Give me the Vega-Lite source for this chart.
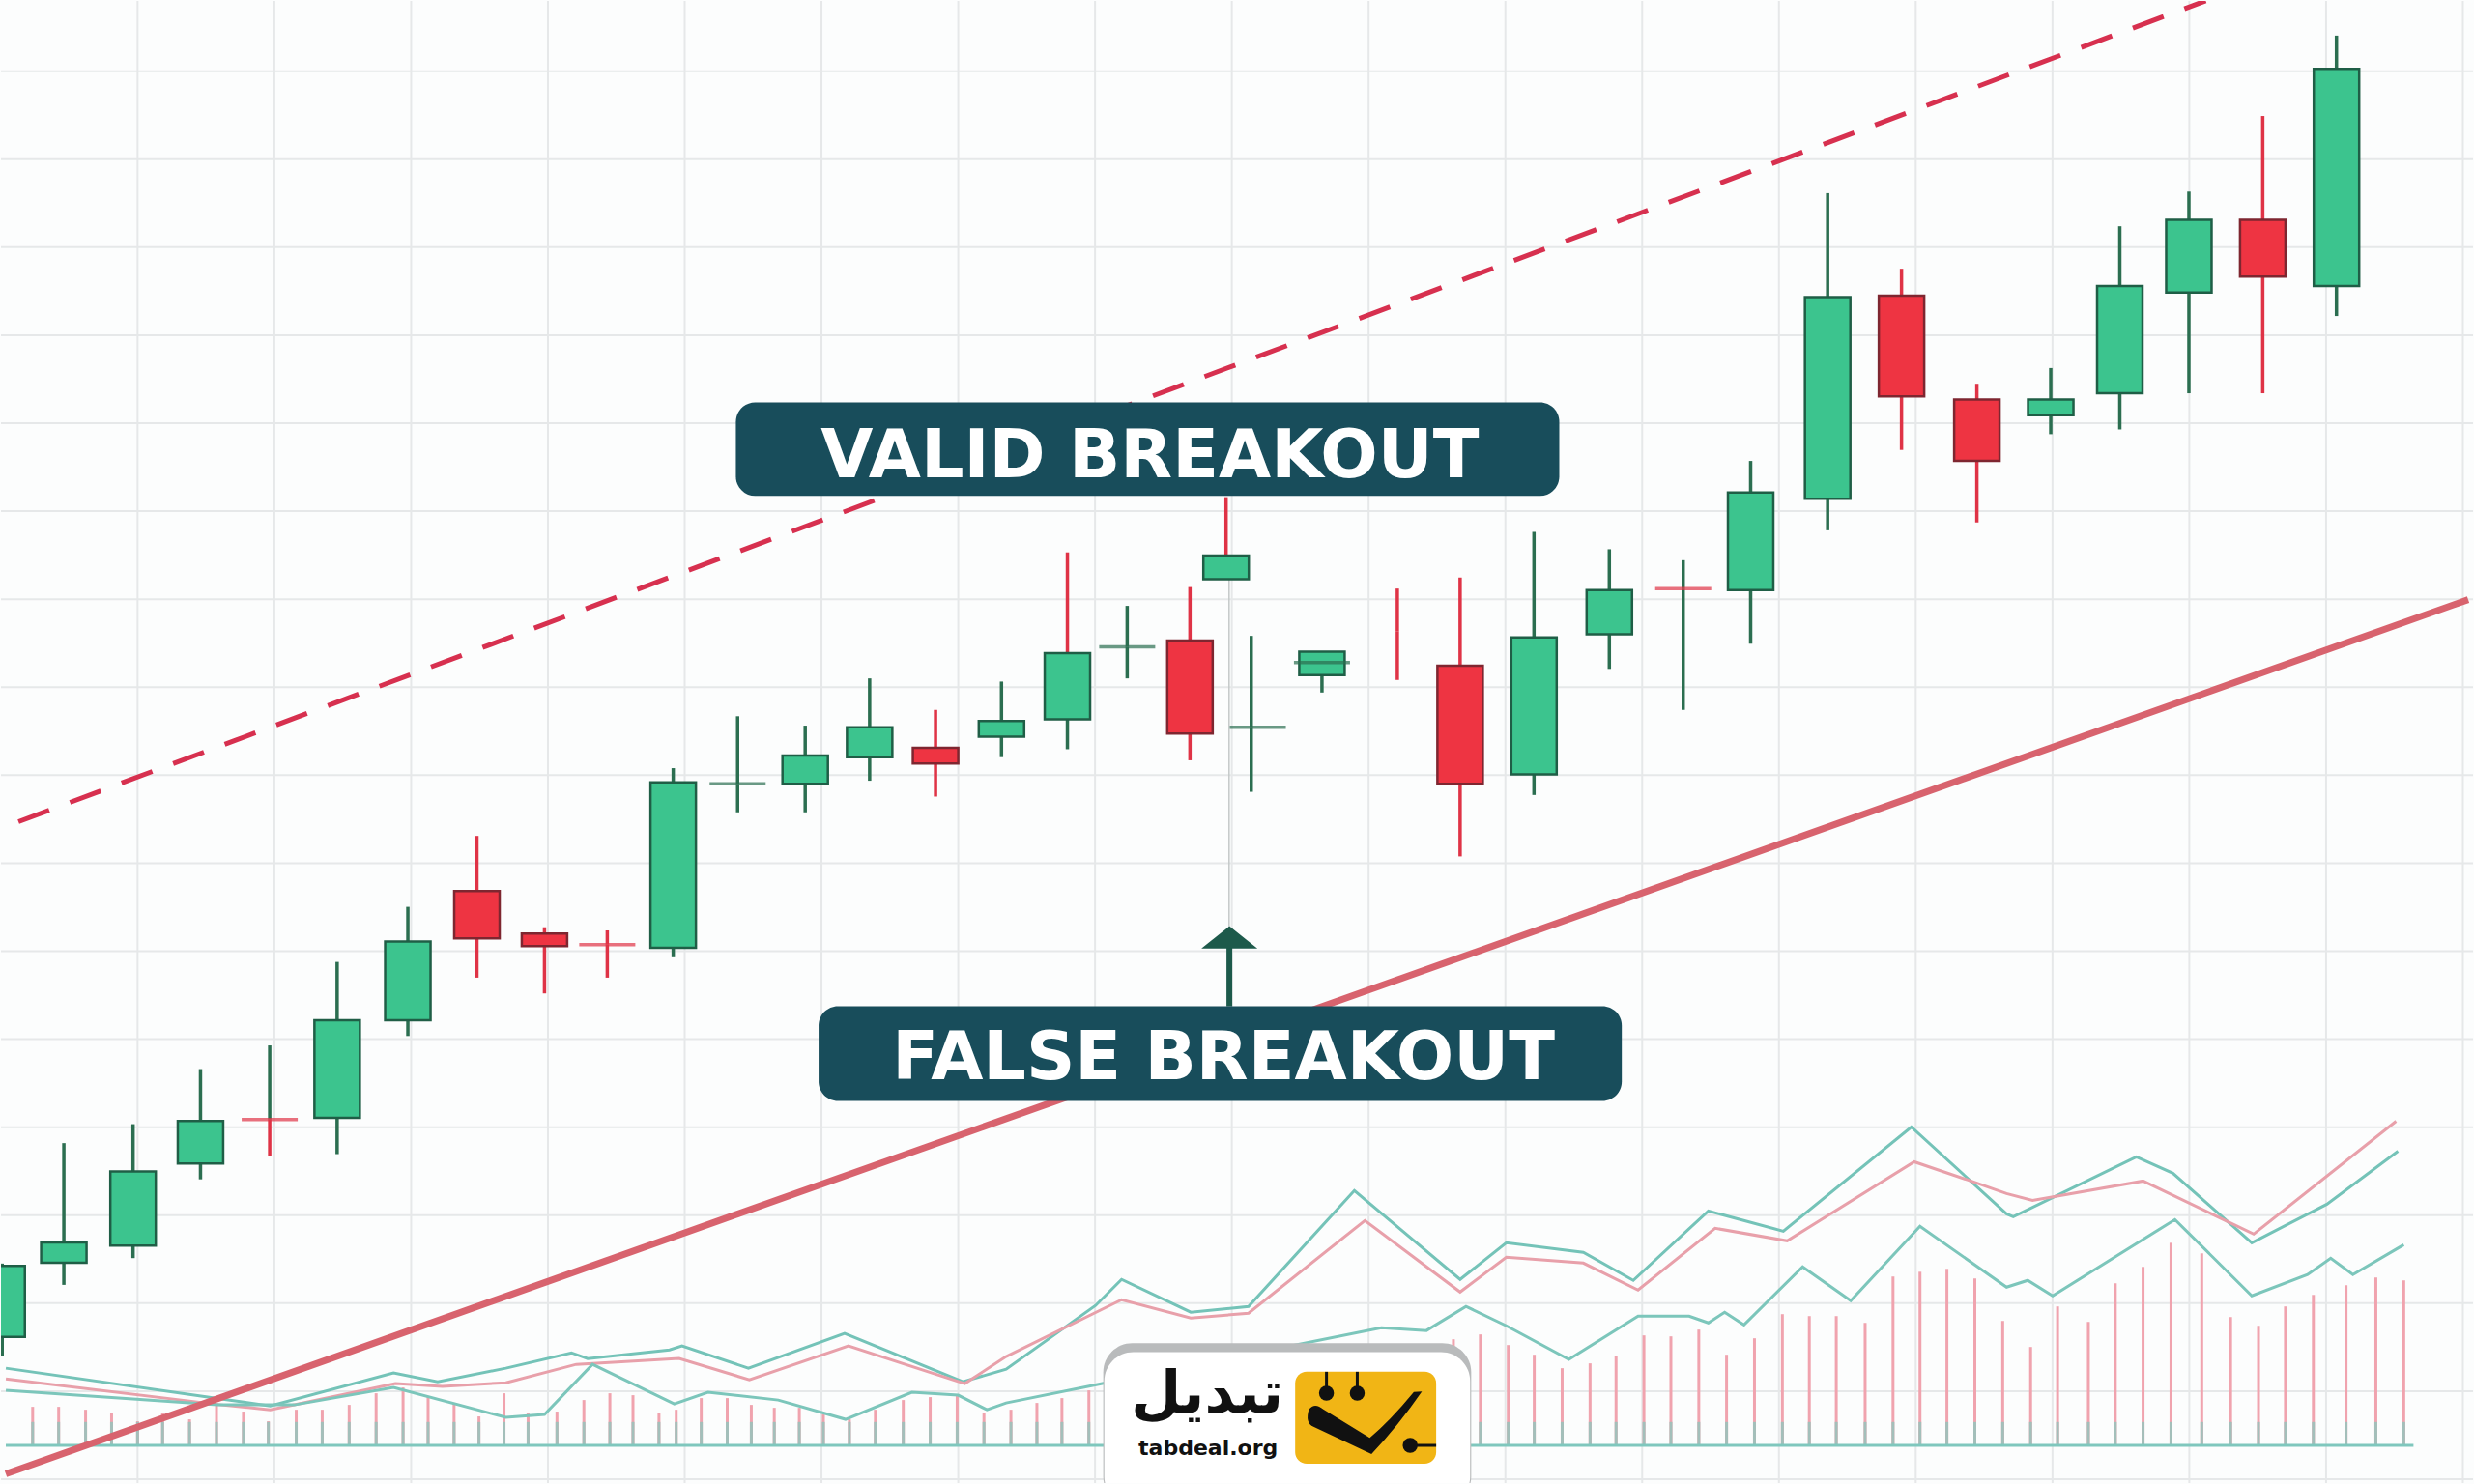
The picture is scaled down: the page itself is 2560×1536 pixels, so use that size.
{
  "$schema": "https://vega.github.io/schema/vega-lite/v6.json",
  "width": 2560,
  "height": 1536,
  "autosize": {"type": "fit", "contains": "padding"},
  "padding": 0,
  "background": "#fcfdfd",
  "config": {
    "view": {"stroke": null}
  },
  "datasets": {
    "gridx": [{"g": 0}, {"g": 10}, {"g": 20}, {"g": 30}, {"g": 40}, {"g": 50}, {"g": 60}, {"g": 70}, {"g": 80}, {"g": 90}, {"g": 100}, {"g": 110}, {"g": 120}, {"g": 130}, {"g": 140}, {"g": 150}, {"g": 160}, {"g": 170}],
    "gridy": [{"g": 0}, {"g": 10}, {"g": 20}, {"g": 30}, {"g": 40}, {"g": 50}, {"g": 60}, {"g": 70}, {"g": 80}, {"g": 90}, {"g": 100}, {"g": 110}, {"g": 120}, {"g": 130}, {"g": 140}, {"g": 150}, {"g": 160}],
    "candles": [
      {"t": -9.9, "hi": 24.5, "top": 24.23, "bot": 16.17, "lo": 14.02, "d": "up", "uw": "up", "lw": "up"},
      {"t": -5.39, "hi": 38.19, "top": 26.91, "bot": 24.58, "lo": 22.08, "d": "up", "uw": "up", "lw": "up"},
      {"t": -0.33, "hi": 40.34, "top": 34.97, "bot": 26.55, "lo": 25.12, "d": "up", "uw": "up", "lw": "up"},
      {"t": 4.6, "hi": 46.6, "top": 40.7, "bot": 35.86, "lo": 34.07, "d": "up", "uw": "up", "lw": "up"},
      {"t": 9.66, "hi": 49.29, "top": 40.88, "bot": 40.88, "lo": 36.76, "d": "down", "uw": "up", "lw": "down"},
      {"t": 14.59, "hi": 58.78, "top": 52.15, "bot": 41.05, "lo": 36.94, "d": "up", "uw": "up", "lw": "up"},
      {"t": 19.76, "hi": 65.04, "top": 61.11, "bot": 52.15, "lo": 50.36, "d": "up", "uw": "up", "lw": "up"},
      {"t": 24.81, "hi": 73.1, "top": 66.83, "bot": 61.46, "lo": 56.99, "d": "down", "uw": "down", "lw": "down"},
      {"t": 29.75, "hi": 62.72, "top": 62.0, "bot": 60.57, "lo": 55.2, "d": "down", "uw": "down", "lw": "down"},
      {"t": 34.34, "hi": 62.36, "top": 60.75, "bot": 60.75, "lo": 56.99, "d": "down", "uw": "down", "lw": "down"},
      {"t": 39.16, "hi": 80.8, "top": 79.19, "bot": 60.39, "lo": 59.31, "d": "up", "uw": "up", "lw": "up"},
      {"t": 43.87, "hi": 86.7, "top": 79.01, "bot": 79.01, "lo": 75.78, "d": "up", "uw": "up", "lw": "up"},
      {"t": 48.81, "hi": 85.63, "top": 82.23, "bot": 79.01, "lo": 75.78, "d": "up", "uw": "up", "lw": "up"},
      {"t": 53.52, "hi": 91.0, "top": 85.45, "bot": 82.05, "lo": 79.37, "d": "up", "uw": "up", "lw": "up"},
      {"t": 58.34, "hi": 87.42, "top": 83.12, "bot": 81.33, "lo": 77.57, "d": "down", "uw": "down", "lw": "down"},
      {"t": 63.16, "hi": 90.64, "top": 86.17, "bot": 84.38, "lo": 82.05, "d": "up", "uw": "up", "lw": "up"},
      {"t": 67.98, "hi": 105.32, "top": 93.87, "bot": 86.35, "lo": 82.95, "d": "up", "uw": "down", "lw": "up"},
      {"t": 72.35, "hi": 99.24, "top": 94.58, "bot": 94.58, "lo": 91.0, "d": "up", "uw": "up", "lw": "up"},
      {"t": 76.94, "hi": 101.38, "top": 95.3, "bot": 84.74, "lo": 81.69, "d": "down", "uw": "down", "lw": "down"},
      {"t": 79.58, "hi": 111.59, "top": 104.96, "bot": 102.28, "lo": 102.28, "d": "up", "uw": "down", "lw": "up"},
      {"t": 81.42, "hi": 95.83, "top": 85.45, "bot": 85.45, "lo": 78.11, "d": "up", "uw": "up", "lw": "up"},
      {"t": 86.59, "hi": 94.04, "top": 94.04, "bot": 91.36, "lo": 89.39, "d": "up", "uw": "up", "lw": "up"},
      {"t": 92.1, "hi": 101.21, "top": 96.37, "bot": 96.37, "lo": 90.82, "d": "down", "uw": "down", "lw": "down"},
      {"t": 96.69, "hi": 102.46, "top": 92.43, "bot": 79.01, "lo": 70.77, "d": "down", "uw": "down", "lw": "down"},
      {"t": 102.09, "hi": 107.65, "top": 95.66, "bot": 80.08, "lo": 77.75, "d": "up", "uw": "up", "lw": "up"},
      {"t": 107.6, "hi": 105.68, "top": 101.03, "bot": 96.01, "lo": 92.08, "d": "up", "uw": "up", "lw": "up"},
      {"t": 113.0, "hi": 104.43, "top": 101.21, "bot": 101.21, "lo": 87.42, "d": "down", "uw": "up", "lw": "up"},
      {"t": 117.93, "hi": 115.71, "top": 112.13, "bot": 101.03, "lo": 94.94, "d": "up", "uw": "up", "lw": "up"},
      {"t": 123.56, "hi": 146.14, "top": 134.32, "bot": 111.41, "lo": 107.83, "d": "up", "uw": "up", "lw": "up"},
      {"t": 128.96, "hi": 137.55, "top": 134.5, "bot": 123.05, "lo": 116.96, "d": "down", "uw": "down", "lw": "down"},
      {"t": 134.47, "hi": 124.48, "top": 122.69, "bot": 115.71, "lo": 108.72, "d": "down", "uw": "down", "lw": "down"},
      {"t": 139.87, "hi": 126.27, "top": 122.69, "bot": 120.9, "lo": 118.75, "d": "up", "uw": "up", "lw": "up"},
      {"t": 144.92, "hi": 142.38, "top": 135.58, "bot": 123.4, "lo": 119.29, "d": "up", "uw": "up", "lw": "up"},
      {"t": 149.97, "hi": 146.32, "top": 143.1, "bot": 134.86, "lo": 123.4, "d": "up", "uw": "up", "lw": "up"},
      {"t": 155.37, "hi": 154.91, "top": 143.1, "bot": 136.65, "lo": 123.4, "d": "down", "uw": "down", "lw": "down"},
      {"t": 160.76, "hi": 164.04, "top": 160.28, "bot": 135.58, "lo": 132.18, "d": "up", "uw": "up", "lw": "up"}
    ],
    "crosses": [
      {"t": 9.66, "y": 40.88, "d": "down"},
      {"t": 34.34, "y": 60.75, "d": "down"},
      {"t": 43.87, "y": 79.01, "d": "up"},
      {"t": 72.35, "y": 94.58, "d": "up"},
      {"t": 81.9, "y": 85.45, "d": "up"},
      {"t": 86.59, "y": 92.79, "d": "up"},
      {"t": 113.0, "y": 101.21, "d": "down"}
    ],
    "vol": [
      {"x": -7.67, "v": 8.22}, {"x": -5.77, "v": 8.22}, {"x": -3.8, "v": 7.89}, {"x": -1.9, "v": 7.57},
      {"x": 0.0, "v": 6.58}, {"x": 1.83, "v": 7.57}, {"x": 3.8, "v": 6.8}, {"x": 5.77, "v": 8.66},
      {"x": 7.74, "v": 7.68}, {"x": 9.56, "v": 6.58}, {"x": 11.6, "v": 7.89}, {"x": 13.5, "v": 7.89},
      {"x": 15.47, "v": 8.44}, {"x": 17.44, "v": 9.76}, {"x": 19.41, "v": 10.42}, {"x": 21.24, "v": 9.32},
      {"x": 23.14, "v": 8.66}, {"x": 24.96, "v": 7.13}, {"x": 26.79, "v": 9.76}, {"x": 28.55, "v": 7.57},
      {"x": 30.66, "v": 7.68}, {"x": 32.63, "v": 8.99}, {"x": 34.53, "v": 9.76}, {"x": 36.22, "v": 9.54},
      {"x": 38.12, "v": 7.57}, {"x": 39.38, "v": 7.89}, {"x": 41.21, "v": 9.21}, {"x": 43.11, "v": 9.21},
      {"x": 44.87, "v": 8.44}, {"x": 46.55, "v": 8.11}, {"x": 48.38, "v": 8.11}, {"x": 50.14, "v": 7.35},
      {"x": 52.04, "v": 6.8}, {"x": 53.94, "v": 7.89}, {"x": 55.98, "v": 8.99}, {"x": 57.95, "v": 9.32},
      {"x": 59.92, "v": 9.54}, {"x": 61.88, "v": 7.57}, {"x": 63.85, "v": 7.89}, {"x": 65.75, "v": 8.66},
      {"x": 67.58, "v": 9.21}, {"x": 69.55, "v": 10.09}, {"x": 71.45, "v": 11.18}, {"x": 73.42, "v": 11.73},
      {"x": 75.39, "v": 12.28}, {"x": 77.36, "v": 12.83}, {"x": 79.32, "v": 12.28}, {"x": 81.29, "v": 13.38},
      {"x": 83.26, "v": 13.93}, {"x": 85.23, "v": 13.38}, {"x": 87.2, "v": 13.93}, {"x": 89.17, "v": 14.47},
      {"x": 91.98, "v": 14.8}, {"x": 93.95, "v": 14.47}, {"x": 96.2, "v": 15.9}, {"x": 98.17, "v": 16.45},
      {"x": 100.21, "v": 15.24}, {"x": 102.11, "v": 14.14}, {"x": 104.15, "v": 12.61}, {"x": 106.19, "v": 13.16},
      {"x": 108.09, "v": 14.04}, {"x": 110.13, "v": 16.34}, {"x": 112.1, "v": 16.23}, {"x": 114.14, "v": 17.0},
      {"x": 116.17, "v": 14.14}, {"x": 118.21, "v": 16.01}, {"x": 120.25, "v": 18.75}, {"x": 122.22, "v": 18.53},
      {"x": 124.19, "v": 18.53}, {"x": 126.3, "v": 17.76}, {"x": 128.34, "v": 23.03}, {"x": 130.31, "v": 23.57},
      {"x": 132.28, "v": 23.9}, {"x": 134.32, "v": 22.81}, {"x": 136.36, "v": 17.98}, {"x": 138.4, "v": 15.02},
      {"x": 140.37, "v": 19.63}, {"x": 142.62, "v": 17.87}, {"x": 144.59, "v": 22.26}, {"x": 146.62, "v": 24.12},
      {"x": 148.66, "v": 26.86}, {"x": 150.91, "v": 25.66}, {"x": 153.02, "v": 18.42}, {"x": 155.06, "v": 17.43},
      {"x": 157.03, "v": 19.63}, {"x": 159.07, "v": 20.94}, {"x": 161.46, "v": 22.04}, {"x": 163.64, "v": 22.92},
      {"x": 165.68, "v": 22.59}
    ],
    "ind": [
      {"s": "A", "x": -9.63, "y": 12.61}, {"s": "A", "x": 6.12, "y": 9.1}, {"s": "A", "x": 9.7, "y": 8.33},
      {"s": "A", "x": 18.71, "y": 12.06}, {"s": "A", "x": 21.94, "y": 11.07}, {"s": "A", "x": 26.93, "y": 12.61},
      {"s": "A", "x": 31.72, "y": 14.36}, {"s": "A", "x": 32.91, "y": 13.71}, {"s": "A", "x": 38.89, "y": 14.69},
      {"s": "A", "x": 39.8, "y": 15.13}, {"s": "A", "x": 44.66, "y": 12.61}, {"s": "A", "x": 51.69, "y": 16.56},
      {"s": "A", "x": 60.34, "y": 11.07}, {"s": "A", "x": 63.5, "y": 12.5}, {"s": "A", "x": 70.04, "y": 19.74},
      {"s": "A", "x": 71.94, "y": 22.7}, {"s": "A", "x": 77.0, "y": 18.97}, {"s": "A", "x": 81.22, "y": 19.63},
      {"s": "A", "x": 88.96, "y": 32.79}, {"s": "A", "x": 96.69, "y": 22.7}, {"s": "A", "x": 100.07, "y": 26.86},
      {"s": "A", "x": 105.7, "y": 25.77}, {"s": "A", "x": 109.35, "y": 22.59}, {"s": "A", "x": 114.84, "y": 30.48},
      {"s": "A", "x": 120.32, "y": 28.18}, {"s": "A", "x": 129.68, "y": 40.02}, {"s": "A", "x": 136.64, "y": 30.15},
      {"s": "A", "x": 137.13, "y": 29.82}, {"s": "A", "x": 146.13, "y": 36.62}, {"s": "A", "x": 148.8, "y": 34.76},
      {"s": "A", "x": 154.57, "y": 26.86}, {"s": "A", "x": 160.06, "y": 31.25}, {"s": "A", "x": 165.26, "y": 37.28},
      {"s": "B", "x": -9.63, "y": 11.4}, {"s": "B", "x": 6.12, "y": 8.44}, {"s": "B", "x": 9.7, "y": 7.89},
      {"s": "B", "x": 18.85, "y": 10.86}, {"s": "B", "x": 22.29, "y": 10.53}, {"s": "B", "x": 26.93, "y": 10.96},
      {"s": "B", "x": 32.07, "y": 13.05}, {"s": "B", "x": 39.59, "y": 13.71}, {"s": "B", "x": 44.73, "y": 11.29},
      {"s": "B", "x": 51.97, "y": 15.13}, {"s": "B", "x": 60.48, "y": 10.86}, {"s": "B", "x": 63.5, "y": 13.93},
      {"s": "B", "x": 71.94, "y": 20.39}, {"s": "B", "x": 77.0, "y": 18.31}, {"s": "B", "x": 81.22, "y": 18.86},
      {"s": "B", "x": 89.73, "y": 29.39}, {"s": "B", "x": 96.69, "y": 21.27}, {"s": "B", "x": 100.07, "y": 25.22},
      {"s": "B", "x": 105.7, "y": 24.56}, {"s": "B", "x": 109.7, "y": 21.49}, {"s": "B", "x": 115.33, "y": 28.51},
      {"s": "B", "x": 120.6, "y": 27.08}, {"s": "B", "x": 129.89, "y": 36.07}, {"s": "B", "x": 133.83, "y": 33.99},
      {"s": "B", "x": 136.64, "y": 32.46}, {"s": "B", "x": 138.54, "y": 31.69}, {"s": "B", "x": 146.62, "y": 33.88},
      {"s": "B", "x": 154.71, "y": 27.85}, {"s": "B", "x": 165.12, "y": 40.68},
      {"s": "C", "x": -9.63, "y": 10.09}, {"s": "C", "x": 5.84, "y": 8.44}, {"s": "C", "x": 11.46, "y": 8.44},
      {"s": "C", "x": 18.71, "y": 10.42}, {"s": "C", "x": 26.93, "y": 7.02}, {"s": "C", "x": 29.75, "y": 7.35},
      {"s": "C", "x": 33.26, "y": 13.05}, {"s": "C", "x": 39.24, "y": 8.55}, {"s": "C", "x": 41.7, "y": 9.87},
      {"s": "C", "x": 46.84, "y": 8.99}, {"s": "C", "x": 51.76, "y": 6.8}, {"s": "C", "x": 56.61, "y": 9.87},
      {"s": "C", "x": 59.99, "y": 9.54}, {"s": "C", "x": 62.1, "y": 7.89}, {"s": "C", "x": 63.5, "y": 8.66},
      {"s": "C", "x": 70.53, "y": 10.86}, {"s": "C", "x": 90.93, "y": 17.21}, {"s": "C", "x": 94.23, "y": 16.89},
      {"s": "C", "x": 97.12, "y": 19.63}, {"s": "C", "x": 100.07, "y": 17.43}, {"s": "C", "x": 104.64, "y": 13.6},
      {"s": "C", "x": 109.7, "y": 18.53}, {"s": "C", "x": 113.43, "y": 18.53}, {"s": "C", "x": 114.84, "y": 17.76},
      {"s": "C", "x": 116.03, "y": 18.97}, {"s": "C", "x": 117.44, "y": 17.54}, {"s": "C", "x": 121.73, "y": 24.12},
      {"s": "C", "x": 125.25, "y": 20.29}, {"s": "C", "x": 130.31, "y": 28.73}, {"s": "C", "x": 136.64, "y": 21.82},
      {"s": "C", "x": 138.19, "y": 22.59}, {"s": "C", "x": 140.01, "y": 20.83}, {"s": "C", "x": 148.95, "y": 29.5},
      {"s": "C", "x": 154.57, "y": 20.83}, {"s": "C", "x": 158.65, "y": 23.25}, {"s": "C", "x": 160.34, "y": 25.11},
      {"s": "C", "x": 161.96, "y": 23.25}, {"s": "C", "x": 165.68, "y": 26.64}
    ]
  },
  "resolve": {"scale": {"color": "independent", "stroke": "independent", "fill": "independent"}},
  "layer": [
    {
      "data": {"name": "gridx"},
      "mark": {"type": "rule", "color": "#e6e8e9", "strokeWidth": 2},
      "encoding": {
        "x": {"field": "g", "type": "quantitative", "axis": null, "scale": {"domain": [-9.634, 170.39], "nice": false, "zero": false}}
      }
    },
    {
      "data": {"name": "gridy"},
      "mark": {"type": "rule", "color": "#e6e8e9", "strokeWidth": 2},
      "encoding": {
        "y": {"field": "g", "type": "quantitative", "axis": null, "scale": {"domain": [-0.44, 167.98], "nice": false, "zero": false}}
      }
    },
    {
      "data": {"name": "vol"},
      "mark": {"type": "rule", "color": "#f0a3ae", "strokeWidth": 3},
      "encoding": {
        "x": {"field": "x", "type": "quantitative", "axis": null, "scale": {"domain": [-9.634, 170.39], "nice": false, "zero": false}},
        "y": {"field": "v", "type": "quantitative", "axis": null, "scale": {"domain": [-0.44, 167.98], "nice": false, "zero": false}},
        "y2": {"datum": 3.84}
      }
    },
    {
      "data": {"name": "vol"},
      "mark": {"type": "rule", "color": "#a3bfba", "strokeWidth": 3},
      "encoding": {
        "x": {"field": "x", "type": "quantitative", "axis": null, "scale": {"domain": [-9.634, 170.39], "nice": false, "zero": false}},
        "y": {"datum": 3.84, "type": "quantitative", "axis": null, "scale": {"domain": [-0.44, 167.98], "nice": false, "zero": false}},
        "y2": {"datum": 6.5}
      }
    },
    {
      "data": {"values": [{}]},
      "mark": {"type": "rule", "color": "#7fc7bd", "strokeWidth": 3},
      "encoding": {
        "x": {"datum": -9.634, "type": "quantitative", "axis": null, "scale": {"domain": [-9.634, 170.39], "nice": false, "zero": false}},
        "x2": {"datum": 166.39},
        "y": {"datum": 3.84, "type": "quantitative", "axis": null, "scale": {"domain": [-0.44, 167.98], "nice": false, "zero": false}}
      }
    },
    {
      "data": {"name": "ind"},
      "mark": {"type": "line", "strokeWidth": 3, "strokeJoin": "miter"},
      "encoding": {
        "x": {"field": "x", "type": "quantitative", "axis": null, "scale": {"domain": [-9.634, 170.39], "nice": false, "zero": false}},
        "y": {"field": "y", "type": "quantitative", "axis": null, "scale": {"domain": [-0.44, 167.98], "nice": false, "zero": false}},
        "color": {"field": "s", "type": "nominal", "legend": null, "scale": {"domain": ["A", "B", "C"], "range": ["#74c3b8", "#e8a0aa", "#7cc6bb"]}}
      }
    },
    {
      "data": {"values": [{"x": -9.634, "y": 0.6}, {"x": 170.39, "y": 99.95}]},
      "mark": {"type": "line", "color": "#d8636e", "strokeWidth": 7, "clip": true},
      "encoding": {
        "x": {"field": "x", "type": "quantitative", "axis": null, "scale": {"domain": [-9.634, 170.39], "nice": false, "zero": false}},
        "y": {"field": "y", "type": "quantitative", "axis": null, "scale": {"domain": [-0.44, 167.98], "nice": false, "zero": false}}
      }
    },
    {
      "data": {"values": [{"x": -8.71, "y": 74.71}, {"x": 151.2, "y": 168.0}]},
      "mark": {"type": "line", "color": "#d7304f", "strokeWidth": 5, "strokeDash": [34, 23], "clip": true},
      "encoding": {
        "x": {"field": "x", "type": "quantitative", "axis": null, "scale": {"domain": [-9.634, 170.39], "nice": false, "zero": false}},
        "y": {"field": "y", "type": "quantitative", "axis": null, "scale": {"domain": [-0.44, 167.98], "nice": false, "zero": false}}
      }
    },
    {
      "data": {"values": [{}]},
      "mark": {"type": "rule", "color": "#c3c8c8", "strokeWidth": 1.5},
      "encoding": {
        "x": {"datum": 79.8, "type": "quantitative", "axis": null, "scale": {"domain": [-9.634, 170.39], "nice": false, "zero": false}},
        "y": {"datum": 102.28, "type": "quantitative", "axis": null, "scale": {"domain": [-0.44, 167.98], "nice": false, "zero": false}},
        "y2": {"datum": 62.83}
      }
    },
    {
      "data": {"name": "candles"},
      "mark": {"type": "rule", "strokeWidth": 3.5, "clip": true},
      "encoding": {
        "x": {"field": "t", "type": "quantitative", "axis": null, "scale": {"domain": [-9.634, 170.39], "nice": false, "zero": false}},
        "y": {"field": "top", "type": "quantitative", "axis": null, "scale": {"domain": [-0.44, 167.98], "nice": false, "zero": false}},
        "y2": {"field": "hi"},
        "stroke": {"field": "uw", "type": "nominal", "legend": null, "scale": {"domain": ["up", "down"], "range": ["#2b6e50", "#df3346"]}}
      }
    },
    {
      "data": {"name": "candles"},
      "mark": {"type": "rule", "strokeWidth": 3.5, "clip": true},
      "encoding": {
        "x": {"field": "t", "type": "quantitative", "axis": null, "scale": {"domain": [-9.634, 170.39], "nice": false, "zero": false}},
        "y": {"field": "lo", "type": "quantitative", "axis": null, "scale": {"domain": [-0.44, 167.98], "nice": false, "zero": false}},
        "y2": {"field": "bot"},
        "stroke": {"field": "lw", "type": "nominal", "legend": null, "scale": {"domain": ["up", "down"], "range": ["#2b6e50", "#df3346"]}}
      }
    },
    {
      "data": {"name": "candles"},
      "transform": [{"filter": "datum.top > datum.bot"}],
      "mark": {"type": "bar", "size": 47, "strokeWidth": 2.5, "clip": true},
      "encoding": {
        "x": {"field": "t", "type": "quantitative", "axis": null, "scale": {"domain": [-9.634, 170.39], "nice": false, "zero": false}},
        "y": {"field": "top", "type": "quantitative", "axis": null, "scale": {"domain": [-0.44, 167.98], "nice": false, "zero": false}},
        "y2": {"field": "bot"},
        "fill": {"field": "d", "type": "nominal", "legend": null, "scale": {"domain": ["up", "down"], "range": ["#3cc48e", "#ee3442"]}},
        "stroke": {"field": "d", "type": "nominal", "legend": null, "scale": {"domain": ["up", "down"], "range": ["#1f5e46", "#7e2630"]}}
      }
    },
    {
      "data": {"name": "crosses"},
      "mark": {"type": "tick", "orient": "horizontal", "size": 58, "thickness": 3.5},
      "encoding": {
        "x": {"field": "t", "type": "quantitative", "axis": null, "scale": {"domain": [-9.634, 170.39], "nice": false, "zero": false}},
        "y": {"field": "y", "type": "quantitative", "axis": null, "scale": {"domain": [-0.44, 167.98], "nice": false, "zero": false}},
        "color": {"field": "d", "type": "nominal", "legend": null, "scale": {"domain": ["up", "down"], "range": ["#2b6e50", "#df3346"]}}
      }
    },
    {
      "data": {"values": [{}]},
      "mark": {"type": "rule", "color": "#1d5a4b", "strokeWidth": 6},
      "encoding": {
        "x": {"datum": 79.82, "type": "quantitative", "axis": null, "scale": {"domain": [-9.634, 170.39], "nice": false, "zero": false}},
        "y": {"datum": 60.5, "type": "quantitative", "axis": null, "scale": {"domain": [-0.44, 167.98], "nice": false, "zero": false}},
        "y2": {"datum": 53.73}
      }
    },
    {
      "data": {"values": [{}]},
      "mark": {"type": "point", "shape": "M-1,0.4L0,-0.4L1,0.4Z", "size": 3364, "filled": true, "color": "#1d5a4b", "opacity": 1},
      "encoding": {
        "x": {"datum": 79.82, "type": "quantitative", "axis": null, "scale": {"domain": [-9.634, 170.39], "nice": false, "zero": false}},
        "y": {"datum": 61.57, "type": "quantitative", "axis": null, "scale": {"domain": [-0.44, 167.98], "nice": false, "zero": false}}
      }
    },
    {
      "data": {"values": [{}]},
      "mark": {"type": "rect", "color": "#184d5b", "cornerRadius": 20},
      "encoding": {
        "x": {"datum": 43.74, "type": "quantitative", "axis": null, "scale": {"domain": [-9.634, 170.39], "nice": false, "zero": false}},
        "x2": {"datum": 103.94},
        "y": {"datum": 122.37, "type": "quantitative", "axis": null, "scale": {"domain": [-0.44, 167.98], "nice": false, "zero": false}},
        "y2": {"datum": 111.73}
      }
    },
    {
      "data": {"values": [{}]},
      "mark": {"type": "rect", "color": "#184d5b", "cornerRadius": 20},
      "encoding": {
        "x": {"datum": 49.79, "type": "quantitative", "axis": null, "scale": {"domain": [-9.634, 170.39], "nice": false, "zero": false}},
        "x2": {"datum": 108.51},
        "y": {"datum": 53.73, "type": "quantitative", "axis": null, "scale": {"domain": [-0.44, 167.98], "nice": false, "zero": false}},
        "y2": {"datum": 42.98}
      }
    },
    {
      "data": {"values": [{}]},
      "mark": {"type": "text", "text": "VALID BREAKOUT", "font": "DejaVu Sans", "fontWeight": "bold", "fontSize": 70, "color": "#ffffff", "align": "center", "baseline": "alphabetic"},
      "encoding": {
        "x": {"datum": 74.01, "type": "quantitative", "axis": null, "scale": {"domain": [-9.634, 170.39], "nice": false, "zero": false}},
        "y": {"datum": 113.9, "type": "quantitative", "axis": null, "scale": {"domain": [-0.44, 167.98], "nice": false, "zero": false}}
      }
    },
    {
      "data": {"values": [{}]},
      "mark": {"type": "text", "text": "FALSE BREAKOUT", "font": "DejaVu Sans", "fontWeight": "bold", "fontSize": 70, "color": "#ffffff", "align": "center", "baseline": "alphabetic"},
      "encoding": {
        "x": {"datum": 79.4, "type": "quantitative", "axis": null, "scale": {"domain": [-9.634, 170.39], "nice": false, "zero": false}},
        "y": {"datum": 45.5, "type": "quantitative", "axis": null, "scale": {"domain": [-0.44, 167.98], "nice": false, "zero": false}}
      }
    },
    {
      "data": {"values": [{}]},
      "mark": {"type": "rect", "color": "#b9bbbc", "cornerRadius": 30, "clip": true},
      "encoding": {
        "x": {"datum": 70.6, "type": "quantitative", "axis": null, "scale": {"domain": [-9.634, 170.39], "nice": false, "zero": false}},
        "x2": {"datum": 97.5},
        "y": {"datum": 15.45, "type": "quantitative", "axis": null, "scale": {"domain": [-0.44, 167.98], "nice": false, "zero": false}},
        "y2": {"datum": -3}
      }
    },
    {
      "data": {"values": [{}]},
      "mark": {"type": "rect", "color": "#ffffff", "cornerRadius": 30, "clip": true},
      "encoding": {
        "x": {"datum": 70.68, "type": "quantitative", "axis": null, "scale": {"domain": [-9.634, 170.39], "nice": false, "zero": false}},
        "x2": {"datum": 97.42},
        "y": {"datum": 14.45, "type": "quantitative", "axis": null, "scale": {"domain": [-0.44, 167.98], "nice": false, "zero": false}},
        "y2": {"datum": -3}
      }
    },
    {
      "data": {"values": [{}]},
      "mark": {"type": "rect", "color": "#f1b515", "cornerRadius": 12},
      "encoding": {
        "x": {"datum": 84.63, "type": "quantitative", "axis": null, "scale": {"domain": [-9.634, 170.39], "nice": false, "zero": false}},
        "x2": {"datum": 94.94},
        "y": {"datum": 12.2, "type": "quantitative", "axis": null, "scale": {"domain": [-0.44, 167.98], "nice": false, "zero": false}},
        "y2": {"datum": 1.75}
      }
    },
    {
      "data": {"values": [{"px": 86.92, "py": 9.76, "qy": 12.2}, {"px": 89.17, "py": 9.76, "qy": 12.2}]},
      "mark": {"type": "rule", "color": "#111111", "strokeWidth": 3},
      "encoding": {
        "x": {"field": "px", "type": "quantitative", "axis": null, "scale": {"domain": [-9.634, 170.39], "nice": false, "zero": false}},
        "y": {"field": "py", "type": "quantitative", "axis": null, "scale": {"domain": [-0.44, 167.98], "nice": false, "zero": false}},
        "y2": {"field": "qy"}
      }
    },
    {
      "data": {"values": [{}]},
      "mark": {"type": "rule", "color": "#111111", "strokeWidth": 3},
      "encoding": {
        "x": {"datum": 93.04, "type": "quantitative", "axis": null, "scale": {"domain": [-9.634, 170.39], "nice": false, "zero": false}},
        "x2": {"datum": 94.94},
        "y": {"datum": 3.84, "type": "quantitative", "axis": null, "scale": {"domain": [-0.44, 167.98], "nice": false, "zero": false}}
      }
    },
    {
      "data": {"values": [{"px": 86.92, "py": 9.76}, {"px": 89.17, "py": 9.76}, {"px": 93.04, "py": 3.84}]},
      "mark": {"type": "point", "shape": "circle", "filled": true, "size": 240, "color": "#111111", "opacity": 1},
      "encoding": {
        "x": {"field": "px", "type": "quantitative", "axis": null, "scale": {"domain": [-9.634, 170.39], "nice": false, "zero": false}},
        "y": {"field": "py", "type": "quantitative", "axis": null, "scale": {"domain": [-0.44, 167.98], "nice": false, "zero": false}}
      }
    },
    {
      "data": {"values": [{}]},
      "mark": {"type": "point", "shape": "M-0.95,-0.22Q-1.02,0.02 -0.87,0.08L0.13,0.55Q0.6,0.05 1,-0.53L0.86,-0.52Q0.45,-0.02 0.1,0.27L-0.7,-0.22Q-0.85,-0.35 -0.95,-0.22Z", "size": 14400, "filled": true, "color": "#111111", "opacity": 1},
      "encoding": {
        "x": {"datum": 89.66, "type": "quantitative", "axis": null, "scale": {"domain": [-9.634, 170.39], "nice": false, "zero": false}},
        "y": {"datum": 6.47, "type": "quantitative", "axis": null, "scale": {"domain": [-0.44, 167.98], "nice": false, "zero": false}}
      }
    },
    {
      "data": {"values": [{}]},
      "mark": {"type": "text", "text": "تبدیل", "font": "DejaVu Sans", "fontWeight": "bold", "fontSize": 60, "color": "#111111", "align": "center", "baseline": "alphabetic"},
      "encoding": {
        "x": {"datum": 78.2, "type": "quantitative", "axis": null, "scale": {"domain": [-9.634, 170.39], "nice": false, "zero": false}},
        "y": {"datum": 7.6, "type": "quantitative", "axis": null, "scale": {"domain": [-0.44, 167.98], "nice": false, "zero": false}}
      }
    },
    {
      "data": {"values": [{}]},
      "mark": {"type": "text", "text": "tabdeal.org", "font": "DejaVu Sans", "fontWeight": "bold", "fontSize": 22, "color": "#111111", "align": "center", "baseline": "alphabetic"},
      "encoding": {
        "x": {"datum": 78.27, "type": "quantitative", "axis": null, "scale": {"domain": [-9.634, 170.39], "nice": false, "zero": false}},
        "y": {"datum": 2.74, "type": "quantitative", "axis": null, "scale": {"domain": [-0.44, 167.98], "nice": false, "zero": false}}
      }
    }
  ]
}
